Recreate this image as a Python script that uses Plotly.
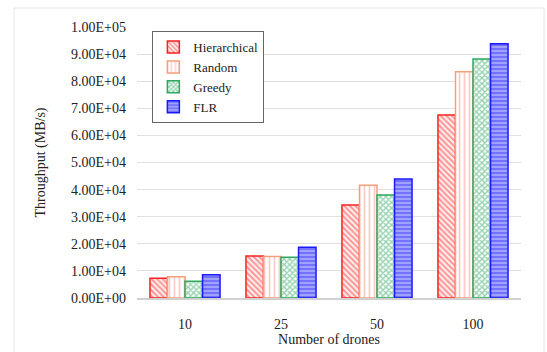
import plotly.graph_objects as go

categories = ["10", "25", "50", "100"]
hierarchical = [7300, 15500, 34300, 67500]
random_ = [7800, 15300, 41600, 83500]
greedy = [6200, 15000, 38000, 88200]
flr = [8600, 18700, 43900, 93800]
tick_values = [i * 10000 for i in range(11)]
tick_labels = [f"{v:.2E}" for v in tick_values]

series = [
    ("Hierarchical", hierarchical, "#ff2020", "\\", "rgba(255,235,235,1)", "#ff3030", 4, 0.45),
    ("Random", random_, "#f4a07a", "|", "rgba(255,255,255,1)", "#f49a9a", 5, 0.35),
    ("Greedy", greedy, "#2ea860", "x", "rgba(255,255,255,1)", "#2ea860", 4, 0.6),
    ("FLR", flr, "#1a1aff", "-", "rgba(160,160,255,1)", "#1a1aff", 4, 0.35),
]

fig = go.Figure()
for name, vals, lc, shape, bg, fg, sz, sol in series:
    fig.add_trace(go.Bar(
        name=name, x=categories, y=vals,
        marker=dict(
            color=bg,
            line=dict(color=lc, width=1.5),
            pattern=dict(shape=shape, fgcolor=fg, bgcolor=bg, size=sz, solidity=sol, fillmode="overlay"),
        ),
    ))

font = "Liberation Serif"
fig.update_layout(
    width=547, height=352,
    margin=dict(l=137, r=26, t=27, b=54),
    paper_bgcolor="white", plot_bgcolor="white",
    barmode="group", bargap=0.27, bargroupgap=0,
    font=dict(family=font, size=14, color="#222"),
    showlegend=True,
    legend=dict(x=0.04, y=0.985, xanchor="left", yanchor="top",
                bordercolor="#666", borderwidth=1, bgcolor="white",
                font=dict(size=13, family=font), tracegroupgap=0,
                itemwidth=30),
    xaxis=dict(title=dict(text="Number of drones", font=dict(size=14), standoff=3),
               showline=True, linecolor="#d0d0d0", linewidth=1.5, ticks="",
               automargin=False,
               ticklabelstandoff=12, tickfont=dict(size=14)),
    yaxis=dict(title=dict(text="Throughput (MB/s)", font=dict(size=14), standoff=22),
               range=[0, 100000], tickvals=tick_values, ticktext=tick_labels,
               showgrid=True, gridcolor="#e0e0e0", gridwidth=1, zeroline=False,
               automargin=False,
               ticklabelstandoff=10, tickfont=dict(size=14)),
    shapes=[dict(type="rect", xref="paper", yref="paper",
                 x0=(14 - 137) / 384, x1=(544 - 137) / 384,
                 y0=-0.3, y1=(298 - 8) / 271,
                 line=dict(color="#e6e6e6", width=1), fillcolor="rgba(0,0,0,0)", layer="below")],
)

fig.write_html("out.html")
